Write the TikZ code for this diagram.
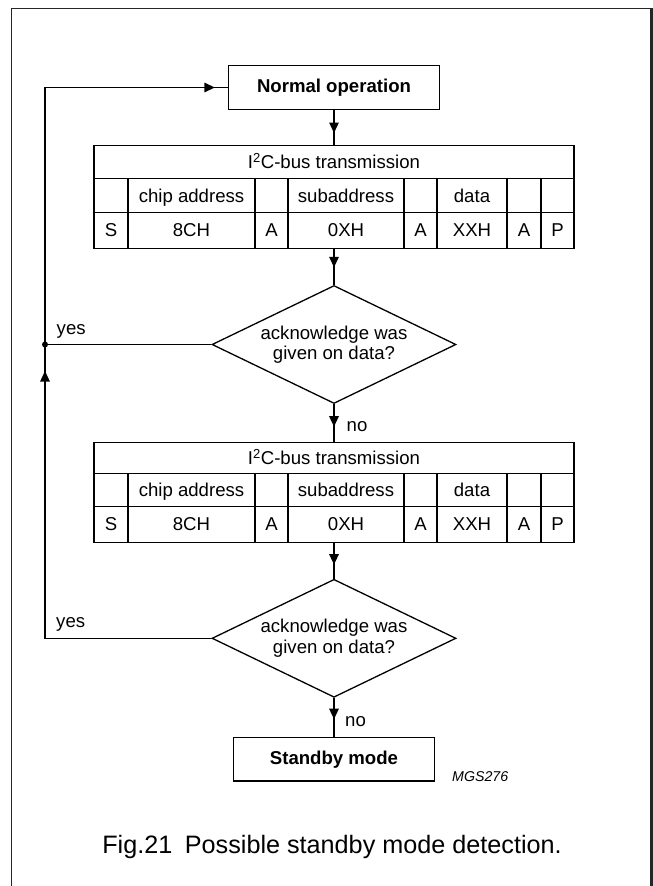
\documentclass[tikz,border=0pt]{standalone}
\usepackage{fontspec}
\setmainfont{Liberation Sans}
\usetikzlibrary{shapes.geometric,arrows.meta,decorations.markings}
\tikzset{
 ln/.style={line width=1.3pt},
 arrowat/.style={postaction={decorate},decoration={markings,mark=at position -#1 with {\arrow{Triangle[length=10.5pt,width=9.5pt]}}}},
 box/.style={draw,line width=1.3pt,inner sep=0pt,font=\fontsize{18.6}{22}\selectfont\bfseries},
 dia/.style={diamond,draw,line width=1.3pt,inner sep=0pt,minimum width=244pt,minimum height=118pt,aspect=2.07,align=center,font=\fontsize{18.6}{20.6}\selectfont},
 cell/.style={inner sep=0pt,font=\fontsize{18.6}{22}\selectfont,text height=13.4pt,text depth=0pt},
 lbl/.style={inner sep=0pt,anchor=west,font=\fontsize{18.6}{22}\selectfont},
}
\newcommand{\bustable}[5]{%
 \node[draw,ln,inner sep=0pt,minimum width=480pt,minimum height={#5pt-#2pt},anchor=north] (#1) at (334,#2) {};
 \draw[ln] (94,#3) -- (574,#3);
 \draw[ln] (94,#4) -- (574,#4);
 \foreach \xx in {128,255,288,404,437,507,541} {\draw[ln] (\xx,#3) -- (\xx,#5);}
 \node[cell] (#1-h) at (334,{(#2+#3)/2}) {I\textsuperscript{2}C-bus transmission};
 \node[cell] (#1-ca) at (191.5,{(#3+#4)/2}) {chip address};
 \node[cell] (#1-sa) at (346,{(#3+#4)/2}) {subaddress};
 \node[cell] (#1-da) at (472,{(#3+#4)/2}) {data};
 \node[cell] (#1-s) at (111,{(#4+#5)/2}) {S};
 \node[cell] (#1-c) at (191.5,{(#4+#5)/2}) {8CH};
 \node[cell] (#1-a1) at (271.5,{(#4+#5)/2}) {A};
 \node[cell] (#1-x) at (346,{(#4+#5)/2}) {0XH};
 \node[cell] (#1-a2) at (420.5,{(#4+#5)/2}) {A};
 \node[cell] (#1-d) at (472,{(#4+#5)/2}) {XXH};
 \node[cell] (#1-a3) at (524,{(#4+#5)/2}) {A};
 \node[cell] (#1-p) at (557.5,{(#4+#5)/2}) {P};
}
\begin{document}
\begin{tikzpicture}[x=1pt,y=-1pt]
\useasboundingbox (0,0) rectangle (653,886);
% frame
\draw[line width=1.3pt,black!85] (11.5,900) -- (11.5,8.5) -- (651.5,8.5);
\draw[line width=2.2pt,black!85] (651.5,7.9) -- (651.5,900);
% nodes
\node[box,minimum width=211pt,minimum height=43.6pt] (no) at (334,87.5) {Normal operation};
\bustable{t1}{145}{178.3}{212.3}{247.7}
\node[dia] (d1) at (334,344.5) {acknowledge was\\given on data?};
\bustable{t2}{441.7}{473.5}{506.7}{541.7}
\node[dia] (d2) at (334,638.3) {acknowledge was\\given on data?};
\node[box,minimum width=201.3pt,minimum height=43.7pt] (sb) at (334,759.2) {Standby mode};
% connectors
\draw[ln,arrowat=12pt] (no.south) -- (t1.north);
\draw[ln,arrowat=17.5pt] (t1.south) -- (d1.north);
\draw[ln,arrowat=15pt] (d1.south) -- (t2.north);
\draw[ln,arrowat=14pt] (t2.south) -- (d2.north);
\draw[ln,arrowat=17.5pt] (d2.south) -- (sb.north);
\coordinate (j1) at (45,344.5);
\coordinate (c2) at (45,638.3);
\coordinate (c0) at (45,87.5);
\draw[ln,arrowat=26.5pt] (d2.west) -- (c2) -- (j1);
\draw[ln] (d1.west) -- (j1);
\fill (j1) circle (3pt);
\draw[ln,arrowat=13pt] (j1) -- (c0) -- (no.west);
% labels
\node[lbl] (y1) at (56.5,331) {yes};
\node[lbl] (y2) at (56,624) {yes};
\node[lbl] (n1) at (346.5,427) {no};
\node[lbl] (n2) at (345,721.7) {no};
\node[lbl,font=\fontsize{14.2}{16}\selectfont\itshape] (mgs) at (452,776.7) {MGS276};
\node[inner sep=0pt,font=\fontsize{25.2}{30}\selectfont] (cap) at (332,846.7) {Fig.21\hspace{0.5em}Possible standby mode detection.};
\end{tikzpicture}
\end{document}
